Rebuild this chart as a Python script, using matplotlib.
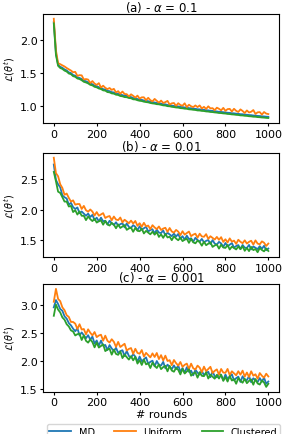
import numpy as np
import matplotlib
matplotlib.use("Agg")
import matplotlib.pyplot as plt

# rounds sampled every 10
rounds = np.arange(0, 1001, 10)

titles = [r'(a) - $\alpha$ = 0.1', r'(b) - $\alpha$ = 0.01', r'(c) - $\alpha$ = 0.001']
labels = ['MD', 'Uniform', 'Clustered']
colors = ['#1f77b4', '#ff7f0e', '#2ca02c']

# (a) alpha = 0.1
md_a = [2.27, 1.80, 1.62, 1.59, 1.575, 1.55, 1.535, 1.505, 1.495, 1.465,
        1.455, 1.43, 1.42, 1.405, 1.38, 1.37, 1.355, 1.335, 1.325, 1.305,
        1.295, 1.28, 1.27, 1.25, 1.245, 1.225, 1.22, 1.205, 1.20, 1.185,
        1.18, 1.165, 1.16, 1.15, 1.148, 1.135, 1.13, 1.115, 1.112, 1.10,
        1.092, 1.088, 1.078, 1.072, 1.068, 1.058, 1.052, 1.048, 1.04, 1.038,
        1.03, 1.022, 1.02, 1.01, 1.008, 1.0, 0.996, 0.99, 0.988, 0.98,
        0.978, 0.972, 0.97, 0.962, 0.96, 0.955, 0.952, 0.945, 0.944, 0.938,
        0.936, 0.93, 0.928, 0.922, 0.92, 0.915, 0.912, 0.906, 0.905, 0.90,
        0.898, 0.892, 0.89, 0.885, 0.883, 0.878, 0.876, 0.87, 0.869, 0.864,
        0.862, 0.857, 0.855, 0.85, 0.849, 0.844, 0.842, 0.838, 0.836, 0.832,
        0.83]
uni_a = [2.32, 1.84, 1.645, 1.63, 1.612, 1.595, 1.572, 1.552, 1.533, 1.508,
         1.513, 1.452, 1.463, 1.46, 1.397, 1.404, 1.396, 1.343, 1.373, 1.335,
         1.315, 1.342, 1.275, 1.303, 1.271, 1.251, 1.268, 1.239, 1.255, 1.2,
         1.22, 1.18, 1.214, 1.177, 1.174, 1.138, 1.172, 1.149, 1.122, 1.152,
         1.107, 1.126, 1.127, 1.083, 1.119, 1.083, 1.065, 1.102, 1.073, 1.045,
         1.077, 1.041, 1.053, 1.072, 1.015, 1.035, 1.04, 0.996, 1.037, 1.009,
         0.999, 1.036, 0.977, 1.014, 0.99, 0.978, 1.003, 0.978, 1.003, 0.957,
         0.982, 0.949, 0.99, 0.958, 0.962, 0.93, 0.969, 0.952, 0.928, 0.966,
         0.921, 0.947, 0.951, 0.911, 0.952, 0.921, 0.904, 0.943, 0.919, 0.888,
         0.927, 0.896, 0.907, 0.933, 0.874, 0.898, 0.902, 0.864, 0.903, 0.879,
         0.872]
clu_a = [2.25, 1.77, 1.605, 1.572, 1.558, 1.532, 1.518, 1.488, 1.478, 1.448,
         1.438, 1.412, 1.404, 1.386, 1.362, 1.352, 1.338, 1.316, 1.308, 1.286,
         1.278, 1.26, 1.252, 1.232, 1.228, 1.206, 1.202, 1.186, 1.182, 1.166,
         1.162, 1.146, 1.142, 1.13, 1.128, 1.116, 1.112, 1.096, 1.094, 1.082,
         1.074, 1.07, 1.06, 1.054, 1.05, 1.04, 1.034, 1.03, 1.022, 1.02,
         1.012, 1.004, 1.002, 0.992, 0.99, 0.982, 0.978, 0.972, 0.97, 0.962,
         0.96, 0.954, 0.952, 0.944, 0.942, 0.937, 0.934, 0.927, 0.926, 0.92,
         0.918, 0.912, 0.91, 0.904, 0.902, 0.897, 0.894, 0.888, 0.887, 0.882,
         0.88, 0.874, 0.872, 0.867, 0.865, 0.86, 0.858, 0.852, 0.851, 0.846,
         0.844, 0.839, 0.837, 0.832, 0.831, 0.826, 0.824, 0.82, 0.818, 0.814,
         0.812]

# (b) alpha = 0.01
md_b = [2.73, 2.48, 2.41, 2.36, 2.23, 2.20, 2.18, 2.08, 2.11, 2.04,
        2.01, 2.035, 1.94, 1.97, 1.935, 1.90, 1.935, 1.88, 1.915, 1.83,
        1.87, 1.81, 1.87, 1.81, 1.82, 1.76, 1.82, 1.78, 1.75, 1.795,
        1.74, 1.764, 1.778, 1.712, 1.776, 1.72, 1.704, 1.748, 1.722, 1.666,
        1.73, 1.674, 1.698, 1.722, 1.646, 1.67, 1.682, 1.614, 1.676, 1.628,
        1.62, 1.662, 1.584, 1.626, 1.598, 1.57, 1.612, 1.564, 1.606, 1.528,
        1.57, 1.514, 1.578, 1.522, 1.536, 1.48, 1.544, 1.508, 1.482, 1.526,
        1.47, 1.494, 1.508, 1.442, 1.506, 1.45, 1.434, 1.478, 1.452, 1.396,
        1.46, 1.406, 1.432, 1.458, 1.384, 1.41, 1.426, 1.362, 1.428, 1.384,
        1.38, 1.428, 1.356, 1.404, 1.382, 1.36, 1.408, 1.366, 1.414, 1.342,
        1.37]
uni_b = [2.84, 2.59, 2.54, 2.41, 2.35, 2.24, 2.26, 2.19, 2.13, 2.15,
         2.08, 2.09, 2.09, 2.01, 2.06, 1.99, 1.966, 2.002, 1.968, 1.904,
         1.96, 1.901, 1.922, 1.943, 1.864, 1.885, 1.896, 1.827, 1.888, 1.839,
         1.83, 1.872, 1.794, 1.836, 1.808, 1.78, 1.822, 1.774, 1.816, 1.738,
         1.78, 1.723, 1.786, 1.729, 1.742, 1.685, 1.748, 1.711, 1.684, 1.727,
         1.67, 1.693, 1.706, 1.639, 1.702, 1.645, 1.628, 1.671, 1.644, 1.587,
         1.65, 1.595, 1.62, 1.645, 1.57, 1.595, 1.61, 1.545, 1.61, 1.565,
         1.56, 1.603, 1.526, 1.569, 1.542, 1.515, 1.558, 1.511, 1.554, 1.477,
         1.52, 1.467, 1.534, 1.481, 1.498, 1.445, 1.512, 1.479, 1.456, 1.503,
         1.45, 1.478, 1.496, 1.434, 1.502, 1.45, 1.438, 1.486, 1.464, 1.412,
         1.45]
clu_b = [2.61, 2.46, 2.29, 2.27, 2.20, 2.13, 2.13, 2.05, 2.06, 1.96,
         1.99, 1.92, 1.97, 1.90, 1.90, 1.83, 1.888, 1.846, 1.814, 1.852,
         1.79, 1.812, 1.824, 1.756, 1.818, 1.76, 1.742, 1.784, 1.756, 1.698,
         1.76, 1.703, 1.726, 1.749, 1.672, 1.695, 1.708, 1.641, 1.704, 1.657,
         1.65, 1.692, 1.614, 1.656, 1.628, 1.60, 1.642, 1.594, 1.636, 1.558,
         1.60, 1.543, 1.606, 1.549, 1.562, 1.505, 1.568, 1.531, 1.504, 1.547,
         1.49, 1.514, 1.528, 1.462, 1.526, 1.47, 1.454, 1.498, 1.472, 1.416,
         1.48, 1.424, 1.448, 1.472, 1.396, 1.42, 1.434, 1.368, 1.432, 1.386,
         1.38, 1.427, 1.354, 1.401, 1.378, 1.355, 1.402, 1.359, 1.406, 1.333,
         1.38, 1.328, 1.396, 1.344, 1.362, 1.31, 1.378, 1.346, 1.324, 1.372,
         1.33]

# (c) alpha = 0.001
md_c = [2.95, 3.08, 3.01, 2.92, 2.89, 2.79, 2.75, 2.67, 2.63, 2.57,
        2.525, 2.578, 2.451, 2.504, 2.452, 2.40, 2.455, 2.375, 2.43, 2.305,
        2.36, 2.269, 2.358, 2.267, 2.281, 2.19, 2.279, 2.218, 2.172, 2.231,
        2.14, 2.171, 2.187, 2.083, 2.174, 2.085, 2.056, 2.117, 2.073, 1.984,
        2.075, 1.99, 2.025, 2.06, 1.945, 1.98, 2.00, 1.90, 1.995, 1.925,
        1.915, 1.98, 1.865, 1.93, 1.89, 1.85, 1.917, 1.849, 1.916, 1.803,
        1.87, 1.787, 1.884, 1.801, 1.823, 1.74, 1.839, 1.788, 1.752, 1.821,
        1.74, 1.779, 1.803, 1.707, 1.806, 1.725, 1.704, 1.773, 1.737, 1.656,
        1.755, 1.676, 1.717, 1.758, 1.649, 1.69, 1.716, 1.622, 1.723, 1.659,
        1.655, 1.726, 1.617, 1.688, 1.654, 1.62, 1.691, 1.627, 1.698, 1.589,
        1.63]
uni_c = [3.05, 3.28, 3.10, 3.06, 2.95, 2.90, 2.81, 2.78, 2.69, 2.69,
         2.66, 2.565, 2.65, 2.555, 2.565, 2.47, 2.559, 2.498, 2.452, 2.511,
         2.42, 2.449, 2.463, 2.357, 2.446, 2.355, 2.324, 2.383, 2.337, 2.246,
         2.335, 2.244, 2.273, 2.302, 2.181, 2.21, 2.226, 2.122, 2.213, 2.139,
         2.125, 2.19, 2.075, 2.14, 2.10, 2.06, 2.131, 2.067, 2.138, 2.029,
         2.10, 2.005, 2.09, 1.995, 2.01, 1.92, 2.013, 1.956, 1.914, 1.977,
         1.89, 1.927, 1.949, 1.851, 1.948, 1.865, 1.844, 1.913, 1.877, 1.796,
         1.895, 1.814, 1.853, 1.892, 1.781, 1.82, 1.846, 1.752, 1.853, 1.789,
         1.785, 1.854, 1.743, 1.812, 1.776, 1.74, 1.813, 1.751, 1.824, 1.717,
         1.79, 1.711, 1.812, 1.733, 1.759, 1.68, 1.781, 1.732, 1.698, 1.769,
         1.72]
clu_c = [2.80, 3.00, 2.91, 2.86, 2.77, 2.73, 2.65, 2.61, 2.54, 2.52,
         2.45, 2.473, 2.481, 2.369, 2.452, 2.355, 2.322, 2.379, 2.331, 2.238,
         2.325, 2.234, 2.263, 2.292, 2.171, 2.20, 2.214, 2.108, 2.197, 2.121,
         2.105, 2.166, 2.047, 2.108, 2.064, 2.02, 2.081, 2.007, 2.068, 1.949,
         2.01, 1.925, 2.02, 1.935, 1.955, 1.87, 1.965, 1.91, 1.87, 1.935,
         1.85, 1.887, 1.909, 1.811, 1.908, 1.825, 1.804, 1.873, 1.837, 1.756,
         1.855, 1.772, 1.809, 1.846, 1.733, 1.77, 1.794, 1.698, 1.797, 1.731,
         1.725, 1.794, 1.683, 1.752, 1.716, 1.68, 1.749, 1.683, 1.752, 1.641,
         1.71, 1.629, 1.728, 1.647, 1.671, 1.59, 1.691, 1.642, 1.608, 1.679,
         1.60, 1.641, 1.667, 1.573, 1.674, 1.595, 1.576, 1.647, 1.613, 1.534,
         1.59]

panels = [(md_a, uni_a, clu_a), (md_b, uni_b, clu_b), (md_c, uni_c, clu_c)]
yticks = [[1.0, 1.5, 2.0], [1.5, 2.0, 2.5], [1.5, 2.0, 2.5, 3.0]]

fig = plt.figure(figsize=(2.91, 4.35), dpi=100)
# axes boxes: left, bottom, width, height (figure fractions)
boxes = [[0.148, 0.715, 0.811, 0.251],
         [0.148, 0.407, 0.811, 0.239],
         [0.148, 0.097, 0.811, 0.248]]

for k, (series, box) in enumerate(zip(panels, boxes)):
    ax = fig.add_axes(box)
    for vals, lab, col in zip(series, labels, colors):
        ax.plot(rounds, vals, color=col, lw=1.3, label=lab)
    ax.set_title(titles[k], fontsize=8.5, pad=2)
    ax.set_ylabel(r'$\mathcal{L}(\theta^t)$', fontsize=7, labelpad=2)
    ax.set_xticks([0, 200, 400, 600, 800, 1000])
    ax.set_yticks(yticks[k])
    ax.tick_params(labelsize=8, length=2.5, pad=1.5)
    if k == 2:
        ax.set_xlabel('# rounds', fontsize=8, labelpad=1)
        ax.legend(loc='upper center', bbox_to_anchor=(0.51, -0.25), ncol=3,
                  fontsize=7, handlelength=2.2, columnspacing=2.0,
                  frameon=True, fancybox=True, borderpad=0.3)

fig.savefig('out.png', dpi=100)
